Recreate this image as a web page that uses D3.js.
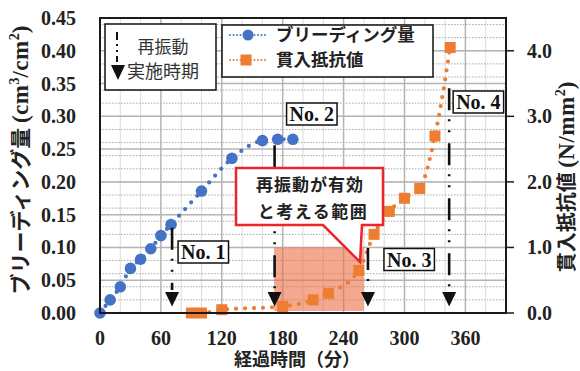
<!DOCTYPE html>
<html>
<head>
<meta charset="utf-8">
<script src="https://cdn.jsdelivr.net/npm/d3@7"></script>
<style>
  body { margin: 0; background: #fff; }
  svg { display: block; }
</style>
</head>
<body>
<svg id="chart" width="580" height="371"></svg>
<script>
// ブリーディング量 (経過時間 分, cm3/cm2)
const bleedTime  = [0, 10, 20, 30, 40, 50, 60, 70, 100, 130, 160, 175, 190];
const bleedValue = [0, 0.02, 0.04, 0.068, 0.082, 0.098, 0.118, 0.135, 0.186, 0.236, 0.263, 0.265, 0.265];

// 貫入抵抗値 (経過時間 分, N/mm2)
const penTime  = [90, 100, 120, 180, 210, 225, 255, 270, 285, 300, 315, 330, 345];
const penValue = [0, 0, 0.05, 0.1, 0.2, 0.3, 0.65, 1.2, 1.55, 1.75, 1.9, 2.7, 4.05];

// 再振動の実施時期 (分) と破線の上端 (N/mm2 軸)
const revibLabel = ["No. 1", "No. 2", "No. 3", "No. 4"];
const revibTime  = [71, 172, 264, 344];
const revibTop   = [1.3, 2.56, 0.99, 3.43];

// 再振動が有効と考える範囲 (分, N/mm2)
const effectiveFrom = 171.5;
const effectiveTo   = 260;
const effectiveMax  = 1.0;

// 目盛
const xTicks      = [0, 60, 120, 180, 240, 300, 360];
const yLeftTicks  = [0, 0.05, 0.10, 0.15, 0.20, 0.25, 0.30, 0.35, 0.40, 0.45];
const yRightTicks = [0, 1, 2, 3, 4];

const svg = d3.select("#chart");
const L = 100, R = 506, T = 18, B = 313;

const x  = d3.scaleLinear().domain([0, 400]).range([L, R]);
const yL = d3.scaleLinear().domain([0, 0.45]).range([B, T]);
const yR = d3.scaleLinear().domain([0, 4.5]).range([B, T]);

const serif = "'Liberation Serif', 'DejaVu Serif', serif";
const jp = "'Noto Sans CJK JP', 'Noto Sans', sans-serif";
const blue = "#4472C4", orange = "#ED7D31";
const dashDot = "22 9 2 9 2 11";

// --- grid ---
const grid = svg.append("g");
grid.selectAll(".vminor").data(d3.range(20, 400, 20).filter(d => d % 60 !== 0)).join("line")
  .attr("x1", d => x(d)).attr("x2", d => x(d)).attr("y1", T).attr("y2", B)
  .attr("stroke", "#dcdcdc").attr("stroke-width", 1);
grid.selectAll(".hdot").data(d3.range(1, 23).map(i => i * 0.2)).join("line")
  .attr("x1", L).attr("x2", R).attr("y1", d => yR(d)).attr("y2", d => yR(d))
  .attr("stroke", "#a8a8a8").attr("stroke-width", 1).attr("stroke-dasharray", "1.5 1.5");
grid.selectAll(".vmajor").data(xTicks.filter(d => d > 0)).join("line")
  .attr("x1", d => x(d)).attr("x2", d => x(d)).attr("y1", T).attr("y2", B)
  .attr("stroke", "#b4b4b4").attr("stroke-width", 1.5);
grid.selectAll(".hmajor").data(yLeftTicks.filter(d => d > 0)).join("line")
  .attr("x1", L).attr("x2", R).attr("y1", d => yL(d)).attr("y2", d => yL(d))
  .attr("stroke", "#b4b4b4").attr("stroke-width", 1.5);

// --- effective range ---
svg.append("rect")
  .attr("x", x(effectiveFrom)).attr("y", yR(effectiveMax))
  .attr("width", x(effectiveTo) - x(effectiveFrom))
  .attr("height", yR(0) - yR(effectiveMax) - 2)
  .attr("fill", "rgb(238,110,70)").attr("opacity", 0.6);

// --- series ---
const bleedPts = bleedTime.map((t, i) => [t, bleedValue[i]]);
const penPts = penTime.map((t, i) => [t, penValue[i]]);

svg.append("path")
  .attr("d", d3.line().x(d => x(d[0])).y(d => yL(d[1])).curve(d3.curveMonotoneX)(bleedPts))
  .attr("fill", "none").attr("stroke", blue).attr("stroke-width", 4.2)
  .attr("stroke-linecap", "round").attr("stroke-dasharray", "0 9");
svg.append("path")
  .attr("d", d3.line().x(d => x(d[0])).y(d => yR(d[1])).curve(d3.curveMonotoneX)(penPts))
  .attr("fill", "none").attr("stroke", orange).attr("stroke-width", 4.2)
  .attr("stroke-linecap", "round").attr("stroke-dasharray", "0 9");

svg.selectAll(".bleed").data(bleedPts).join("circle")
  .attr("cx", d => x(d[0])).attr("cy", d => yL(d[1])).attr("r", 5.8).attr("fill", blue);
const sq = 11;
svg.selectAll(".pen").data(penPts).join("rect")
  .attr("x", d => x(d[0]) - sq / 2).attr("y", d => yR(d[1]) - sq / 2)
  .attr("width", sq).attr("height", sq).attr("fill", orange);

// --- frame & axes ---
svg.append("rect").attr("x", L).attr("y", T).attr("width", R - L).attr("height", B - T)
  .attr("fill", "none").attr("stroke", "#1a1a1a").attr("stroke-width", 2);

svg.selectAll(".yl").data(yLeftTicks).join("text")
  .attr("x", 76).attr("y", d => yL(d)).attr("dy", "0.35em")
  .attr("text-anchor", "end").attr("font-family", serif).attr("font-weight", "bold")
  .attr("font-size", 20).attr("fill", "#222").text(d3.format(".2f"));

svg.selectAll(".rt").data(yRightTicks).join("line")
  .attr("x1", R).attr("x2", R + 8).attr("y1", d => yR(d)).attr("y2", d => yR(d))
  .attr("stroke", "#1a1a1a").attr("stroke-width", 1.5);
svg.selectAll(".yr").data(yRightTicks).join("text")
  .attr("x", 527).attr("y", d => yR(d)).attr("dy", "0.35em")
  .attr("font-family", serif).attr("font-weight", "bold")
  .attr("font-size", 20).attr("fill", "#222").text(d3.format(".1f"));

svg.selectAll(".xl").data(xTicks).join("text")
  .attr("x", d => x(d)).attr("y", 345)
  .attr("text-anchor", "middle").attr("font-family", serif).attr("font-weight", "bold")
  .attr("font-size", 20).attr("fill", "#222").text(d => d);

// axis titles
svg.append("text").attr("x", 297).attr("y", 360).attr("dy", "0.35em")
  .attr("text-anchor", "middle").attr("font-family", jp).attr("font-weight", "bold")
  .attr("font-size", 18).attr("fill", "#222").text("経過時間（分）");

const lt = svg.append("text")
  .attr("transform", "translate(21,160) rotate(-90)")
  .attr("text-anchor", "middle").attr("font-weight", "bold").attr("fill", "#222");
lt.append("tspan").attr("font-family", jp).attr("font-size", 21).attr("dy", "0.35em").text("ブリーディング量 ");
lt.append("tspan").attr("font-family", serif).attr("font-size", 23).attr("letter-spacing", 0.5).text("(cm");
lt.append("tspan").attr("font-family", serif).attr("font-size", 14).attr("dy", -9).text("3");
lt.append("tspan").attr("font-family", serif).attr("font-size", 23).attr("letter-spacing", 0.5).attr("dy", 9).text("/cm");
lt.append("tspan").attr("font-family", serif).attr("font-size", 14).attr("dy", -9).text("2");
lt.append("tspan").attr("font-family", serif).attr("font-size", 23).attr("dy", 9).text(")");

const rt = svg.append("text")
  .attr("transform", "translate(567,177) rotate(-90)")
  .attr("text-anchor", "middle").attr("font-weight", "bold").attr("fill", "#222");
rt.append("tspan").attr("font-family", jp).attr("font-size", 20).attr("dy", "0.35em").text("貫入抵抗値 ");
rt.append("tspan").attr("font-family", serif).attr("font-size", 23).attr("letter-spacing", 0.5).text("(N/mm");
rt.append("tspan").attr("font-family", serif).attr("font-size", 14).attr("dy", -9).text("2");
rt.append("tspan").attr("font-family", serif).attr("font-size", 23).attr("dy", 9).text(")");

// --- re-vibration events ---
const tri = (cx, yb, yt, w) => `M${cx - w / 2},${yb} L${cx + w / 2},${yb} L${cx},${yt} Z`;
revibTime.forEach((t, i) => {
  svg.append("line")
    .attr("x1", x(t)).attr("x2", x(t)).attr("y1", yR(revibTop[i])).attr("y2", yR(0.35))
    .attr("stroke", "#111").attr("stroke-width", 2.6).attr("stroke-dasharray", dashDot);
  svg.append("path").attr("d", tri(x(t), yR(0.32), yR(0.1), 14)).attr("fill", "#111");
});

// 番号ラベル
const labelLayout = [
  { dx: 5,  cy: 252 },
  { dx: 11, cy: 114 },
  { dx: 15, cy: 259.5 },
  { dx: 3,  cy: 102 }
];
revibLabel.forEach((lab, i) => {
  const g = svg.append("g");
  const txt = g.append("text")
    .attr("x", x(revibTime[i]) + labelLayout[i].dx + 4).attr("y", labelLayout[i].cy).attr("dy", "0.35em")
    .attr("font-family", serif).attr("font-weight", "bold").attr("font-size", 20)
    .attr("fill", "#111").text(lab);
  const bb = txt.node().getBBox();
  g.insert("rect", "text")
    .attr("x", bb.x - 3).attr("y", labelLayout[i].cy - 11)
    .attr("width", bb.width + 6).attr("height", 22)
    .attr("fill", "#fff").attr("stroke", "#111").attr("stroke-width", 1.5);
});

// --- callout ---
svg.append("path")
  .attr("d", "M236,168 H383 V225 H362 L360,262 L323,225 H236 Z")
  .attr("fill", "#fff").attr("stroke", "#E8262B").attr("stroke-width", 2.5)
  .attr("stroke-linejoin", "miter");
svg.append("text").attr("x", 310).attr("y", 185).attr("dy", "0.35em")
  .attr("text-anchor", "middle").attr("font-family", jp).attr("font-weight", "bold")
  .attr("font-size", 17).attr("letter-spacing", 1).attr("fill", "#222").text("再振動が有効");
svg.append("text").attr("x", 313).attr("y", 212).attr("dy", "0.35em")
  .attr("text-anchor", "middle").attr("font-family", jp).attr("font-weight", "bold")
  .attr("font-size", 17).attr("letter-spacing", 1.5).attr("fill", "#222").text("と考える範囲");

// --- legend: re-vibration ---
const lg1 = svg.append("g");
lg1.append("rect").attr("x", 105).attr("y", 24).attr("width", 111).attr("height", 66)
  .attr("fill", "#fff").attr("stroke", "#111").attr("stroke-width", 1.5);
lg1.append("line").attr("x1", 117).attr("x2", 117).attr("y1", 32).attr("y2", 62)
  .attr("stroke", "#111").attr("stroke-width", 2).attr("stroke-dasharray", "8 4 2 4 2 4");
lg1.append("path").attr("d", tri(118, 65, 80, 14)).attr("fill", "#111");
lg1.append("text").attr("x", 163).attr("y", 47).attr("dy", "0.35em").attr("text-anchor", "middle")
  .attr("font-family", jp).attr("font-size", 17).attr("fill", "#333").text("再振動");
lg1.append("text").attr("x", 127).attr("y", 72).attr("dy", "0.35em")
  .attr("font-family", jp).attr("font-size", 18).attr("fill", "#333").text("実施時期");

// --- legend: series ---
const lg2 = svg.append("g");
lg2.append("rect").attr("x", 222).attr("y", 25).attr("width", 211).attr("height", 52)
  .attr("fill", "#fff").attr("stroke", "#111").attr("stroke-width", 1.5);
lg2.append("line").attr("x1", 230).attr("x2", 267).attr("y1", 35).attr("y2", 35)
  .attr("stroke", blue).attr("stroke-width", 2).attr("stroke-linecap", "round").attr("stroke-dasharray", "0 3.5");
lg2.append("circle").attr("cx", 248).attr("cy", 35).attr("r", 5.5).attr("fill", blue);
lg2.append("line").attr("x1", 230).attr("x2", 267).attr("y1", 60).attr("y2", 60)
  .attr("stroke", orange).attr("stroke-width", 2).attr("stroke-linecap", "round").attr("stroke-dasharray", "0 3.5");
lg2.append("rect").attr("x", 246 - 5.5).attr("y", 60 - 5.5).attr("width", 11).attr("height", 11).attr("fill", orange);
lg2.append("text").attr("x", 276).attr("y", 35).attr("dy", "0.35em")
  .attr("font-family", jp).attr("font-weight", "bold").attr("font-size", 17.5).attr("fill", "#222").text("ブリーディング量");
lg2.append("text").attr("x", 276).attr("y", 60).attr("dy", "0.35em")
  .attr("font-family", jp).attr("font-weight", "bold").attr("font-size", 17.5).attr("fill", "#222").text("貫入抵抗値");
</script>
</body>
</html>
